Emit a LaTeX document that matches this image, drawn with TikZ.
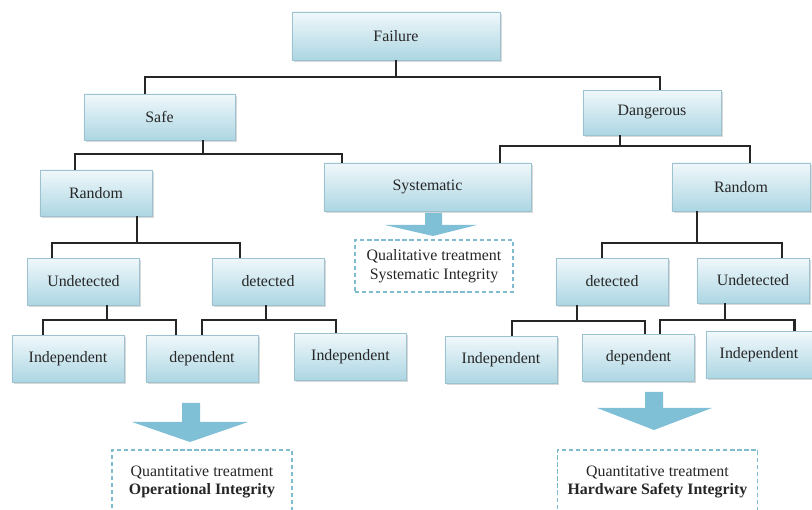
\documentclass[tikz,border=0pt]{standalone}
\usepackage{fontspec}
\setmainfont{Liberation Serif}
\usetikzlibrary{positioning,shadows}
\definecolor{boxtop}{HTML}{F0F8FB}
\definecolor{boxbot}{HTML}{ADD6E3}
\definecolor{boxline}{HTML}{9CC2CF}
\definecolor{arrowblue}{HTML}{80C0D6}
\definecolor{dashblue}{HTML}{7FBCD0}
\tikzstyle{block} = [
  rectangle, draw = boxline, top color = boxtop, bottom color = boxbot,
  text = black!85, minimum width = 2.8cm, minimum height = 1.17cm,
  drop shadow = {shadow xshift = 1.2pt, shadow yshift = -1.2pt, opacity = 0.3},
  font = \fontsize{11.3}{13}\selectfont
]
\tikzstyle{note} = [
  rectangle, draw = dashblue, dash pattern = on 3pt off 2pt, line width = 0.8pt,
  align = center, text = black!85, font = \fontsize{11.3}{13.5}\selectfont
]
\tikzstyle{line} = [draw, line width = 1.7pt, black!85]
\tikzstyle{fatarrow} = [fill = arrowblue, draw = none]

\begin{document}
\begin{tikzpicture}[x=0.025cm, y=-0.025cm]
    \clip (0,0) rectangle (812,510);

    \node[block, minimum width=5.2cm, minimum height=1.2cm] (failure) at (396,36) {Failure};
    \node[block, minimum width=3.78cm, minimum height=1.15cm] (safe) at (159.5,117) {Safe};
    \node[block, minimum width=3.45cm, minimum height=1.12cm] (dangerous) at (652,112.5) {Dangerous};
    \node[block, minimum height=1.15cm] (randomS) at (96,193) {Random};
    \node[block, minimum width=5.18cm, minimum height=1.2cm] (systematic) at (427.5,187) {Systematic};
    \node[block, minimum width=3.45cm, minimum height=1.2cm] (randomD) at (741,187) {Random};
    \node[block] (undetS) at (83.5,281.5) {Undetected};
    \node[block] (detS) at (268,281.5) {detected};
    \node[block] (detD) at (612,281.5) {detected};
    \node[block, minimum height=1.12cm] (undetD) at (753,280.5) {Undetected};
    \node[block] (indS1) at (68,358.5) {Independent};
    \node[block] (depS) at (202,358.5) {dependent};
    \node[block] (indS2) at (350.5,356.5) {Independent};
    \node[block] (indD1) at (501,360) {Independent};
    \node[block] (depD) at (638.5,357.5) {dependent};
    \node[block, minimum width=2.65cm] (indD2) at (759,355) {Independent};

    \node[note, minimum width=3.95cm, minimum height=1.3cm] (qual) at (434,266)
      {Qualitative treatment\\Systematic Integrity};
    \node[note, minimum width=4.5cm, minimum height=1.6cm] (oper) at (202,482)
      {Quantitative treatment\\\textbf{Operational Integrity}};
    \node[note, minimum width=5.02cm, minimum height=1.6cm] (hard) at (657.5,482)
      {Quantitative treatment\\\textbf{Hardware Safety Integrity}};

    % tree connectors
    \draw[line] (failure) -- (failure |- 0,77) -| ([shift={(-14.5,0)}]safe.north);
    \draw[line] (failure) -- (failure |- 0,77) -| ([shift={(8,0)}]dangerous.north);
    \draw[line] ([shift={(43.5,0)}]safe.south) |- ([shift={(0,14)}]safe.south) -| ([shift={(-21,0)}]randomS.north);
    \draw[line] ([shift={(43.5,0)}]safe.south) |- ([shift={(0,14)}]safe.south) -| ([shift={(-85.5,0)}]systematic.north);
    \draw[line] ([shift={(-32,0)}]dangerous.south) |- ([shift={(0,11)}]dangerous.south) -| ([shift={(72.5,0)}]systematic.north);
    \draw[line] ([shift={(-32,0)}]dangerous.south) |- ([shift={(0,11)}]dangerous.south) -| ([shift={(9,0)}]randomD.north);
    \draw[line] ([shift={(41,0)}]randomS.south) |- ([shift={(0,27)}]randomS.south) -| ([shift={(-31.5,0)}]undetS.north);
    \draw[line] ([shift={(41,0)}]randomS.south) |- ([shift={(0,27)}]randomS.south) -| ([shift={(-28,0)}]detS.north);
    \draw[line] ([shift={(23.5,0)}]undetS.south) |- ([shift={(0,15)}]undetS.south) -| ([shift={(-25,0)}]indS1.north);
    \draw[line] ([shift={(23.5,0)}]undetS.south) |- ([shift={(0,15)}]undetS.south) -| ([shift={(-26,0)}]depS.north);
    \draw[line] ([shift={(-2,0)}]detS.south) |- ([shift={(0,15)}]detS.south) -| (depS.north);
    \draw[line] ([shift={(-2,0)}]detS.south) |- ([shift={(0,15)}]detS.south) -| ([shift={(-14.5,0)}]indS2.north);
    \draw[line] ([shift={(-44,0)}]randomD.south) |- ([shift={(0,32)}]randomD.south) -| ([shift={(-10,0)}]detD.north);
    \draw[line] ([shift={(-44,0)}]randomD.south) |- ([shift={(0,32)}]randomD.south) -| ([shift={(29,0)}]undetD.north);
    \draw[line] ([shift={(-35,0)}]detD.south) |- ([shift={(0,16)}]detD.south) -| ([shift={(11,0)}]indD1.north);
    \draw[line] ([shift={(-35,0)}]detD.south) |- ([shift={(0,16)}]detD.south) -| ([shift={(6.5,0)}]depD.north);
    \draw[line] ([shift={(-28,0)}]undetD.south) |- ([shift={(0,17)}]undetD.south) -| ([shift={(21.5,0)}]depD.north);
    \draw[line] ([shift={(-28,0)}]undetD.south) |- ([shift={(0,17)}]undetD.south) -| ([shift={(35.5,0)}]indD2.north);

    % block arrows
    \fill[fatarrow] (425,213) -- (442,213) -- (442,225) -- (477,225) -- (433,236)
      -- (385,225) -- (425,225) -- cycle;
    \fill[fatarrow] (182,403) -- (200,403) -- (200,422) -- (248,422) -- (190,442)
      -- (132,422) -- (182,422) -- cycle;
    \fill[fatarrow] (645,392) -- (663,392) -- (663,408) -- (712,408) -- (654,430)
      -- (597,408) -- (645,408) -- cycle;
\end{tikzpicture}
\end{document}
